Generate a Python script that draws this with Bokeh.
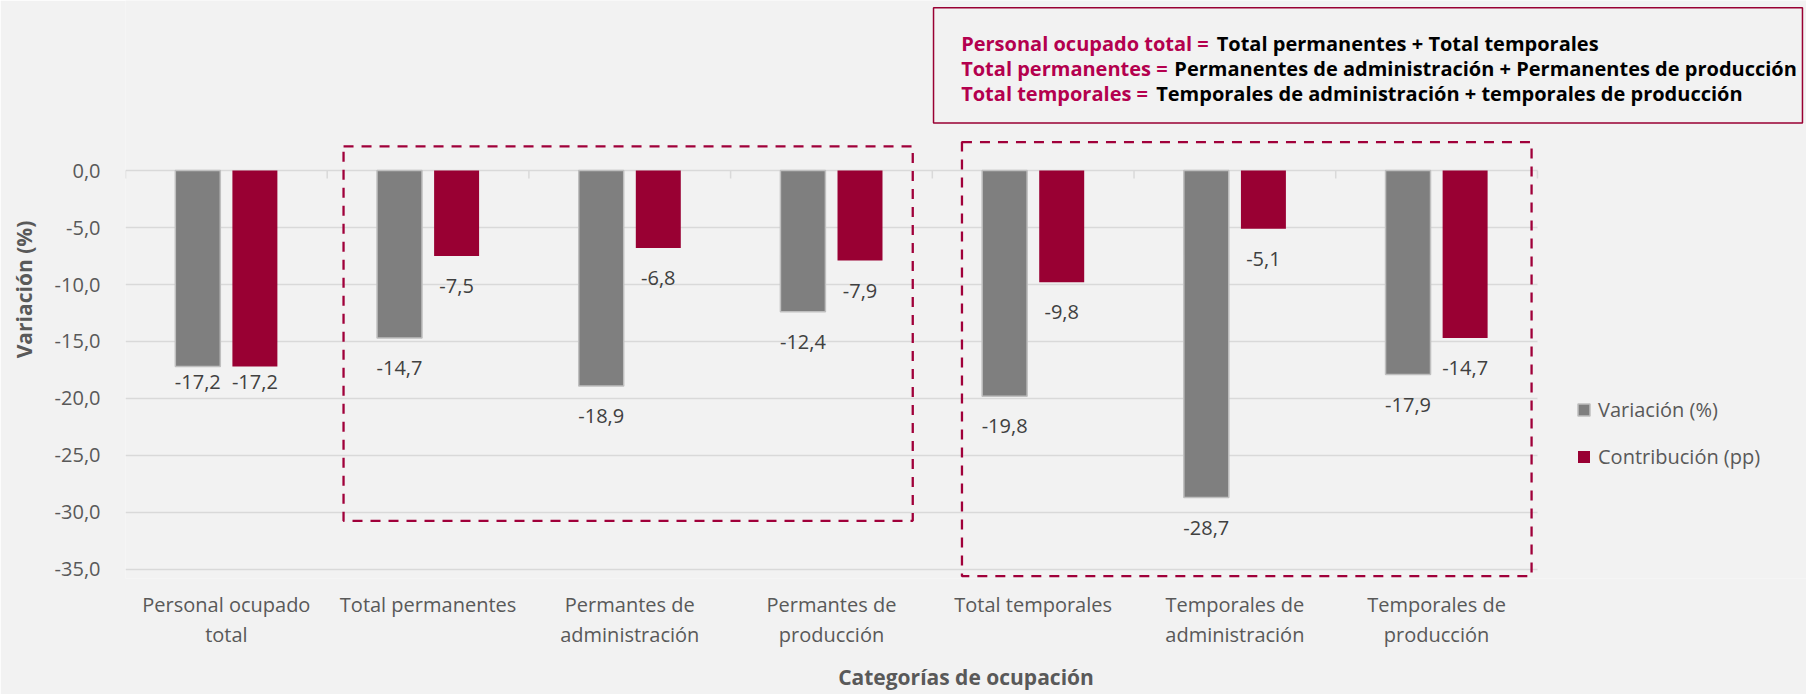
from bokeh.plotting import figure
from bokeh.models import (ColumnDataSource, Range1d, FixedTicker, BoxAnnotation,
                          Label, Legend, LegendItem)
from bokeh.transform import dodge
from bokeh.embed import file_html
from bokeh.resources import INLINE

# ---------------- data ----------------
categories = ["Personal ocupado\ntotal", "Total permanentes", "Permantes de\nadministración",
              "Permantes de\nproducción", "Total temporales", "Temporales de\nadministración",
              "Temporales de\nproducción"]
variacion = [-17.2, -14.7, -18.9, -12.4, -19.8, -28.7, -17.9]
contribucion = [-17.2, -7.5, -6.8, -7.9, -9.8, -5.1, -14.7]
series_names = ["Variación (%)", "Contribución (pp)"]
y_ticks = [0, -5, -10, -15, -20, -25, -30, -35]
y_tick_labels = ["0,0", "-5,0", "-10,0", "-15,0", "-20,0", "-25,0", "-30,0", "-35,0"]
note_keys = ["Personal ocupado total =", "Total permanentes =", "Total temporales ="]
note_values = ["Total permanentes + Total temporales",
               "Permanentes de administración + Permanentes de producción",
               "Temporales de administración + temporales de producción"]

# ---------------- styles ----------------
GREY = "#7f7f7f"
RED = "#990033"
TXT = "#595959"
LBL = "#404040"
BG = "#f2f2f2"
GRID = "#d9d9d9"
FONT = "Open Sans"
label_gap = [15, 30, 30, 30, 30, 30, 30]   # px below bar end

n = len(categories)
xpos = [i + 0.5 for i in range(n)]          # category slots on the numeric x scale
bounds_x = list(range(n + 1))               # category boundaries (axis tick marks)


def fmt(v):
    return f"{v:.1f}".replace(".", ",")


src = ColumnDataSource(dict(
    x=xpos, var=variacion, con=contribucion,
    var_lbl=[fmt(v) for v in variacion], con_lbl=[fmt(v) for v in contribucion],
    gap=label_gap,
))

p = figure(x_range=Range1d(0, 8.334), y_range=Range1d(-35.8, 14.925),
           width=1806, height=694, output_backend="svg", toolbar_location=None,
           min_border_left=125, min_border_right=0, min_border_top=0, min_border_bottom=115)
p.background_fill_color = BG
p.border_fill_color = BG
p.outline_line_color = None

# horizontal gridlines only across the category area
p.xgrid.grid_line_color = None
yg = p.ygrid[0]
if "cross_bounds" in yg.properties():
    yg.grid_line_color = GRID
    yg.grid_line_width = 1.5
    yg.cross_bounds = (0, n)
else:
    yg.grid_line_color = None
    p.segment(x0=0, x1=n, y0=y_ticks, y1=y_ticks, line_color=GRID, line_width=1.5)

# category-axis tick marks hanging from the zero line
p.segment(x0=bounds_x, x1=bounds_x, y0=0, y1=-0.7, line_color=GRID, line_width=1.5)

DX = 0.1415
W = 0.223
r1 = p.vbar(x=dodge("x", -DX), top=0, bottom="var", width=W, source=src,
            fill_color=GREY, line_color="#bfbfbf", line_width=1.5)
r2 = p.vbar(x=dodge("x", DX), top=0, bottom="con", width=W, source=src,
            fill_color=RED, line_color=None)

for col, lbl, off in (("var", "var_lbl", -DX), ("con", "con_lbl", DX)):
    p.text(x=dodge("x", off), y=col, text=lbl, y_offset="gap", source=src,
           text_align="center", text_baseline="middle", text_font_size="20px",
           text_color=LBL, text_font={"value": FONT})

# y axis
p.yaxis.ticker = FixedTicker(ticks=y_ticks)
p.yaxis.major_label_overrides = dict(zip(y_ticks, y_tick_labels))
p.yaxis.bounds = (-35, 0)
p.yaxis.axis_line_color = None
p.yaxis.major_tick_line_color = None
p.yaxis.minor_tick_line_color = None
p.yaxis.major_tick_out = 0
p.yaxis.major_tick_in = 0
p.yaxis.major_label_standoff = 25
p.yaxis.major_label_text_font = FONT
p.yaxis.major_label_text_font_size = "20px"
p.yaxis.major_label_text_color = TXT
p.yaxis.axis_label = "Variación (%)"
p.yaxis.axis_label_text_font = FONT
p.yaxis.axis_label_text_font_style = "bold"
p.yaxis.axis_label_text_font_size = "21px"
p.yaxis.axis_label_text_color = TXT
p.yaxis.axis_label_standoff = 14

# x axis (category names on the numeric slots)
p.xaxis.ticker = FixedTicker(ticks=xpos)
p.xaxis.major_label_overrides = dict(zip(xpos, categories))
p.xaxis.bounds = (0, n)
p.xaxis.axis_line_color = None
p.xaxis.major_tick_line_color = None
p.xaxis.minor_tick_line_color = None
p.xaxis.major_tick_out = 0
p.xaxis.major_tick_in = 0
p.xaxis.major_label_standoff = 12
p.xaxis.major_label_text_font = FONT
p.xaxis.major_label_text_font_size = "20px"
p.xaxis.major_label_text_color = TXT
p.xaxis.major_label_text_line_height = 1.13
p.xaxis.axis_label = "Categorías de ocupación"
p.xaxis.axis_label_text_font = FONT
p.xaxis.axis_label_text_font_style = "bold"
p.xaxis.axis_label_text_font_size = "21px"
p.xaxis.axis_label_text_color = TXT
p.xaxis.axis_label_standoff = 12

# dashed group boxes
for l, r, t, b in ((1.081, 3.903, 2.13, -30.74), (4.147, 6.971, 2.5, -35.6)):
    p.add_layout(BoxAnnotation(left=l, right=r, top=t, bottom=b, fill_alpha=0,
                               line_color="#a0003a", line_alpha=1, line_width=2.3,
                               line_dash="10 8"))

# note box
p.add_layout(BoxAnnotation(left=4.006, right=8.314, top=14.29, bottom=4.17, fill_alpha=0,
                           line_color=RED, line_alpha=1, line_width=1.5))
xs_black = [5.41, 5.2, 5.11]
ys_note = [11.18, 8.94, 6.75]
for k, v, xb, yy in zip(note_keys, note_values, xs_black, ys_note):
    p.add_layout(Label(x=4.143, y=yy, text=k, text_color="#b4004e", text_font=FONT,
                       text_font_style="bold", text_font_size="20px", text_baseline="middle"))
    p.add_layout(Label(x=xb, y=yy, text=v, text_color="#000000", text_font=FONT,
                       text_font_style="bold", text_font_size="20px", text_baseline="middle"))

legend = Legend(items=[LegendItem(label=series_names[0], renderers=[r1]),
                       LegendItem(label=series_names[1], renderers=[r2])],
                location=(1451, 108), orientation="vertical",
                glyph_width=15, glyph_height=15, label_height=27, spacing=20,
                label_standoff=7, padding=0, margin=0,
                label_text_font=FONT, label_text_font_size="20px", label_text_color=TXT,
                border_line_color=None, background_fill_alpha=0)
p.add_layout(legend)

open("out.html", "w").write(file_html(p, INLINE))
